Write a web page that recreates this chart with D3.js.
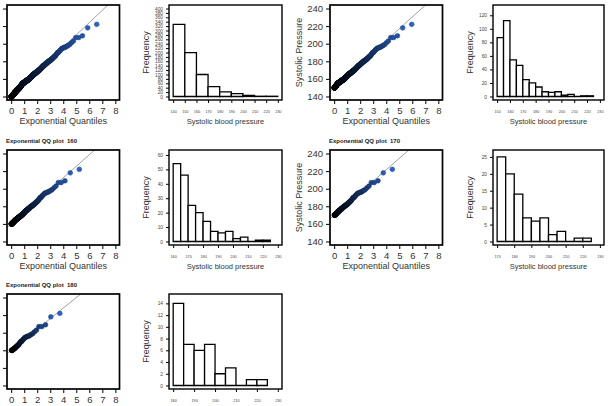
<!DOCTYPE html>
<html>
<head>
<meta charset="utf-8">
<script src="https://cdn.jsdelivr.net/npm/d3@7"></script>
<style>
body { margin: 0; background: #fff; }
svg { display: block; font-family: "Liberation Sans", Arial, sans-serif; }
</style>
</head>
<body>
<div id="chart"></div>
<script>
// systolic readings (>= 140) and how many patients had each reading
const bpValues = [140,141,142,143,144,145,146,147,148,149,
    150,151,152,153,154,155,156,157,158,159,
    160,161,162,163,164,165,166,167,168,169,
    170,171,172,173,174,175,176,177,178,179,
    180,181,182,183,184,185,186,187,188,189,
    190,191,192,193,194,195,196,197,198,199,
    201,203,207,209,218,222];
const bpCounts = [43,40,37,34,32,30,29,28,28,27,
    22,17,18,15,15,26,24,22,21,19,
    14,11,11,9,9,11,10,9,8,8,
    7,5,5,4,4,5,4,4,4,3,
    4,3,3,2,2,2,2,1,1,1,
    2,1,1,1,1,2,2,1,1,1,
    1,1,2,1,1,1];

const thresholds = [140, 150, 160, 170, 180];
const binWidths = [10, 5, 5, 5, 5];
const refSlopes = [14.0, 13.4, 13.1, 12.9, 12.0];
const histYMax = [400, 130, 61, 26, 15];
const histYTicks = [
    [0,20,40,60,80,100,120,140,160,180,200,220,240,260,280,300,320,340,360,380,400],
    [0,20,40,60,80,100,120],
    [0,10,20,30,40,50,60],
    [0,5,10,15,20,25],
    [0,2,4,6,8,10,12,14]
];
const histXTicks = [
    [140,150,160,170,180,190,200,210,220,230],
    [150,160,170,180,190,200,210,220,230],
    [160,170,180,190,200,210,220,230],
    [170,180,190,200,210,220,230],
    [180,190,200,210,220,230]
];
const qqXTicks = [0,1,2,3,4,5,6,7,8];
const qqYTicks = [140,160,180,200,220,240];

const sbp = bpValues.flatMap((v, i) => Array(bpCounts[i]).fill(v));

// layout of the cropped grid
const rowTops = [5, 150, 294];
const qqLefts = [7, 330];
const histLefts = [169, 493];
const panelH = 95;

const svg = d3.select('#chart').append('svg')
    .attr('width', 608)
    .attr('height', 406);
svg.append('rect').attr('width', 608).attr('height', 406).attr('fill', '#fff');

class QQPlot {

    constructor(_config, _data) {
        this.config = {
            parentElement: _config.parentElement,
            left: _config.left,
            top: _config.top,
            width: _config.width,
            height: _config.height,
            threshold: _config.threshold,
            slope: _config.slope,
            id: _config.id,
        }
        this.data = _data;
        this.initVis();
    }

    initVis() {
        let vis = this;
        vis.xScale = d3.scaleLinear().domain([-0.32, 8.32]).range([0, vis.config.width]);
        vis.yScale = d3.scaleLinear().domain([136, 244]).range([vis.config.height, 0]);
        vis.g = vis.config.parentElement.append('g')
            .attr('transform', `translate(${vis.config.left}, ${vis.config.top})`);
        vis.g.append('clipPath').attr('id', `clip-${vis.config.id}`)
            .append('rect').attr('width', vis.config.width).attr('height', vis.config.height);
        // title
        vis.g.append('text')
            .attr('x', -1).attr('y', -7)
            .attr('font-size', 6).attr('font-weight', 'bold').attr('fill', '#222')
            .style('white-space', 'pre')
            .text(`Exponential QQ plot  ${vis.config.threshold}`);
        // axes
        vis.xAxisG = vis.g.append('g').attr('transform', `translate(0, ${vis.config.height})`)
            .call(d3.axisBottom(vis.xScale).tickValues(qqXTicks).tickSize(4).tickPadding(3));
        vis.yAxisG = vis.g.append('g')
            .call(d3.axisLeft(vis.yScale).tickValues(qqYTicks).tickSize(4).tickPadding(3));
        [vis.xAxisG, vis.yAxisG].forEach((a) => {
            a.select('.domain').remove();
            a.selectAll('text').attr('font-size', 9.5).attr('fill', '#333').attr('font-family', null);
            a.selectAll('line').attr('stroke', '#000');
        });
        vis.g.append('text')
            .attr('x', vis.config.width / 2).attr('y', vis.config.height + 24)
            .attr('text-anchor', 'middle').attr('font-size', 9).attr('fill', '#333')
            .text('Exponential Quantiles');
        vis.g.append('text')
            .attr('transform', `translate(-28.5, ${vis.config.height / 2}) rotate(-90)`)
            .attr('text-anchor', 'middle').attr('font-size', 9).attr('fill', '#333')
            .text('Systolic Pressure');
        vis.updateVis();
    }

    updateVis() {
        let vis = this;
        const u = vis.config.threshold;
        const ys = vis.data.filter((d) => d >= u).sort(d3.ascending);
        const n = ys.length;
        vis.points = ys.map((y, i) => ({ q: -Math.log(1 - (i + 1) / (n + 1)), y: y }));
        vis.cScale = d3.scalePow().exponent(0.8)
            .domain([u, d3.max(ys)])
            .range(['#000000', '#2b63c6']);
        vis.renderVis();
    }

    renderVis() {
        let vis = this;
        const u = vis.config.threshold;
        vis.g.append('line')
            .attr('clip-path', `url(#clip-${vis.config.id})`)
            .attr('x1', vis.xScale(-0.32)).attr('y1', vis.yScale(u - 0.32 * vis.config.slope))
            .attr('x2', vis.xScale(8.32)).attr('y2', vis.yScale(u + 8.32 * vis.config.slope))
            .attr('stroke', '#a0a0a0').attr('stroke-width', 1);
        vis.g.selectAll('.qq-pt')
            .data(vis.points)
            .enter()
            .append('circle')
            .attr('class', 'qq-pt')
            .attr('cx', (d) => vis.xScale(d.q))
            .attr('cy', (d) => vis.yScale(d.y))
            .attr('r', 2.4)
            .attr('fill', (d) => vis.cScale(d.y))
            .attr('stroke', (d) => d3.color(vis.cScale(d.y)).darker(0.8))
            .attr('stroke-width', 0.5);
        vis.g.append('rect')
            .attr('width', vis.config.width).attr('height', vis.config.height)
            .attr('fill', 'none').attr('stroke', '#000').attr('stroke-width', 1.7);
    }
}

class Histo {

    constructor(_config, _data) {
        this.config = {
            parentElement: _config.parentElement,
            left: _config.left,
            top: _config.top,
            width: _config.width,
            height: _config.height,
            threshold: _config.threshold,
            binWidth: _config.binWidth,
            yMax: _config.yMax,
            yTicks: _config.yTicks,
            xTicks: _config.xTicks,
        }
        this.data = _data;
        this.initVis();
    }

    initVis() {
        let vis = this;
        const lo = vis.config.threshold;
        const span = 230 - lo;
        vis.xScale = d3.scaleLinear().domain([lo - 0.04 * span, 230 + 0.04 * span]).range([0, vis.config.width]);
        vis.yScale = d3.scaleLinear().domain([-0.04 * vis.config.yMax, 1.04 * vis.config.yMax]).range([vis.config.height, 0]);
        vis.g = vis.config.parentElement.append('g')
            .attr('transform', `translate(${vis.config.left}, ${vis.config.top})`);
        vis.xAxisG = vis.g.append('g').attr('transform', `translate(0, ${vis.config.height})`)
            .call(d3.axisBottom(vis.xScale).tickValues(vis.config.xTicks).tickSize(3).tickPadding(7));
        vis.yAxisG = vis.g.append('g')
            .call(d3.axisLeft(vis.yScale).tickValues(vis.config.yTicks).tickSize(3).tickPadding(3));
        vis.xAxisG.selectAll('text').attr('font-size', 3.8);
        vis.yAxisG.selectAll('text').attr('font-size', 4.8);
        [vis.xAxisG, vis.yAxisG].forEach((a) => {
            a.select('.domain').remove();
            a.selectAll('text').attr('fill', '#444').attr('font-family', null);
            a.selectAll('line').attr('stroke', '#000');
        });
        vis.g.append('text')
            .attr('x', vis.config.width / 2).attr('y', vis.config.height + 24)
            .attr('text-anchor', 'middle').attr('font-size', 7.5).attr('fill', '#333')
            .text('Systolic blood pressure');
        vis.g.append('text')
            .attr('transform', `translate(-20, ${vis.config.height / 2}) rotate(-90)`)
            .attr('text-anchor', 'middle').attr('font-size', 9).attr('fill', '#333')
            .text('Frequency');
        vis.updateVis();
    }

    updateVis() {
        let vis = this;
        const lo = vis.config.threshold;
        const w = vis.config.binWidth;
        const vals = vis.data.filter((d) => d >= lo);
        const hi = Math.ceil(d3.max(vals) / w) * w;
        vis.bins = d3.bin()
            .domain([lo, hi])
            .thresholds(d3.range(lo + w, hi, w))(vals);
        vis.renderVis();
    }

    renderVis() {
        let vis = this;
        // paths, so that an empty bin still shows as a flat line
        vis.g.selectAll('.hist-bar')
            .data(vis.bins)
            .enter()
            .append('path')
            .attr('class', 'hist-bar')
            .attr('d', (d) => {
                const x0 = vis.xScale(d.x0), x1 = vis.xScale(d.x1);
                const y0 = vis.yScale(0), y1 = vis.yScale(d.length);
                return `M${x0},${y0}V${y1}H${x1}V${y0}Z`;
            })
            .attr('fill', '#fff')
            .attr('stroke', '#000')
            .attr('stroke-width', 1.3);
        vis.g.append('rect')
            .attr('width', vis.config.width).attr('height', vis.config.height)
            .attr('fill', 'none').attr('stroke', '#000').attr('stroke-width', 1.4);
    }
}

thresholds.forEach((u, i) => {
    const row = Math.floor(i / 2);
    const col = i % 2;
    new QQPlot({
        parentElement: svg, id: i,
        left: qqLefts[col], top: rowTops[row], width: 112.5, height: panelH,
        threshold: u, slope: refSlopes[i],
    }, sbp);
    new Histo({
        parentElement: svg,
        left: histLefts[col], top: rowTops[row], width: col === 0 ? 113 : 111, height: panelH,
        threshold: u, binWidth: binWidths[i], yMax: histYMax[i],
        yTicks: histYTicks[i], xTicks: histXTicks[i],
    }, sbp);
});
</script>
</body>
</html>
